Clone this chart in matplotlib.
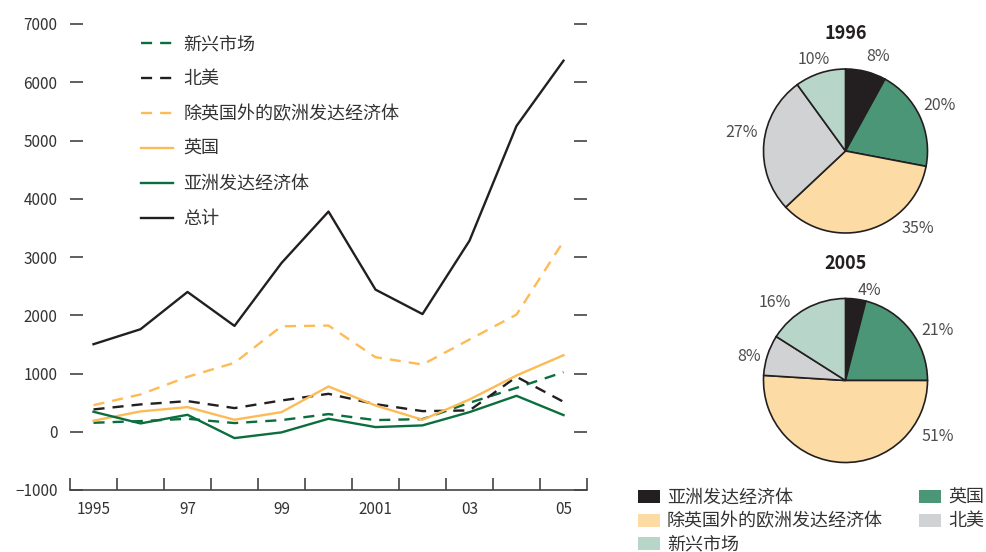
"""Capital flows by region 1995-2005 with 1996 / 2005 share pies"""
import matplotlib.pyplot as plt
from matplotlib.patches import Patch

plt.rcParams['font.family'] = ['Noto Sans CJK SC', 'DejaVu Sans']

YEARS = list(range(1995, 2006))
EMERGING = [154, 183, 223, 149, 200, 303, 200, 217, 497, 754, 1023]
NORTH_AMERICA = [383, 469, 526, 406, 537, 651, 474, 354, 366, 943, 514]
EUROPE_EX_UK = [457, 640, 943, 1183, 1811, 1823, 1280, 1154, 1583, 2011, 3270]
UK = [189, 349, 423, 206, 337, 777, 451, 206, 554, 966, 1314]
ASIA = [343, 143, 291, -109, -11, 223, 80, 109, 337, 617, 286]
TOTAL = [1503, 1760, 2400, 1817, 2897, 3780, 2440, 2020, 3280, 5250, 6370]

Y_TICKS = [-1000, 0, 1000, 2000, 3000, 4000, 5000, 6000, 7000]
Y_LABELS = ["\u22121000", "0", "1000", "2000", "3000", "4000", "5000", "6000", "7000"]
X_LABEL_YEARS = [1995, 1997, 1999, 2001, 2003, 2005]
X_LABELS = ["1995", "97", "99", "2001", "03", "05"]

# pie order (clockwise from 12 o'clock): Asia, UK, Europe ex UK, North America, Emerging
PIE_NAMES = ["亚洲发达经济体", "英国", "除英国外的欧洲发达经济体", "北美", "新兴市场"]
PIE_1996 = [8, 20, 35, 27, 10]
PIE_2005 = [4, 21, 51, 8, 16]

BLACK = "#231f20"
DKGREEN = "#0b6e3d"
ORANGE = "#fdbb55"
PIE_COLORS = ["#231f20", "#4a9677", "#fddba5", "#d1d2d4", "#b8d5c9"]
TICK_COLOR = "#444444"
TEXT_COLOR = "#333333"

fig = plt.figure(figsize=(9.86, 5.52), dpi=100)

# ---- line chart ----
ax = fig.add_axes([70 / 986, 1 - 490 / 552, 517 / 986, 466 / 552])
dash = (4.7, 3.4)
lw = 1.7
ax.plot(YEARS, EMERGING, color=DKGREEN, lw=lw, dashes=dash, label="新兴市场")
ax.plot(YEARS, NORTH_AMERICA, color=BLACK, lw=lw, dashes=dash, label="北美")
ax.plot(YEARS, EUROPE_EX_UK, color=ORANGE, lw=lw, dashes=dash, label="除英国外的欧洲发达经济体")
ax.plot(YEARS, UK, color=ORANGE, lw=lw, label="英国")
ax.plot(YEARS, ASIA, color=DKGREEN, lw=lw, label="亚洲发达经济体")
ax.plot(YEARS, TOTAL, color=BLACK, lw=lw, label="总计")

ax.set_xlim(1994.5, 2005.5)
ax.set_ylim(-1000, 7000)
for side in ("left", "right", "top"):
    ax.spines[side].set_visible(False)
ax.spines["bottom"].set_color(TICK_COLOR)
ax.spines["bottom"].set_linewidth(1.2)

ax.set_xticks([y + 0.5 for y in range(1994, 2006)])
ax.set_xticklabels([])
ax.set_xticks(X_LABEL_YEARS, minor=True)
ax.set_xticklabels(X_LABELS, minor=True)
ax.tick_params(axis="x", which="major", direction="in", length=8.5, width=1.2, color=TICK_COLOR)
ax.tick_params(axis="x", which="minor", length=0, pad=8, labelsize=11, labelcolor=TEXT_COLOR)

ax.set_yticks(Y_TICKS)
ax.set_yticklabels(Y_LABELS)
ax.tick_params(axis="y", direction="in", length=9.5, width=1.2, color=TICK_COLOR,
               left=True, right=True, pad=9, labelsize=11, labelcolor=TEXT_COLOR)

ax.legend(loc="upper left", bbox_to_anchor=(141 / 986, 1 - 35 / 552), bbox_transform=fig.transFigure,
          frameon=False, fontsize=13, handlelength=1.75, handletextpad=0.6,
          labelspacing=0.94, borderpad=0, borderaxespad=0, labelcolor=TEXT_COLOR)

# ---- pies ----
LABEL_POS_1996 = [(0.40, 1.15), (1.15, 0.56), (0.88, -0.95), (-1.27, 0.23), (-0.39, 1.11)]
LABEL_POS_2005 = [(0.29, 1.10), (1.12, 0.61), (1.12, -0.68), (-1.17, 0.29), (-0.86, 0.95)]


def draw_pie(center_y, values, label_pos, title):
    r = 82
    pax = fig.add_axes([(845.5 - r) / 986, 1 - (center_y + r) / 552, 2 * r / 986, 2 * r / 552])
    pax.pie(values, colors=PIE_COLORS, startangle=90, counterclock=False,
            wedgeprops=dict(edgecolor=BLACK, linewidth=1.2))
    pax.set_xlim(-1, 1)
    pax.set_ylim(-1, 1)
    pax.set_aspect("auto")
    pax.axis("off")
    for v, (lx, ly) in zip(values, label_pos):
        pax.text(lx, ly, f"{v}%", ha="center", va="center", fontsize=11.5,
                 color="#4d4d4d", clip_on=False)
    pax.text(0, 1.43, title, ha="center", va="center", fontsize=13, fontweight="bold",
             color=BLACK, clip_on=False)


draw_pie(151, PIE_1996, LABEL_POS_1996, "1996")
draw_pie(380.5, PIE_2005, LABEL_POS_2005, "2005")

handles = [Patch(facecolor=c, edgecolor="none") for c in PIE_COLORS]
order = [0, 2, 4, 1, 3]
fig.legend([handles[i] for i in order], [PIE_NAMES[i] for i in order],
           loc="upper left", bbox_to_anchor=(638 / 986, 1 - 489 / 552), ncol=2,
           frameon=False, fontsize=13, handlelength=1.2, handleheight=0.72,
           handletextpad=0.4, labelspacing=0.3, columnspacing=2.0,
           borderpad=0, borderaxespad=0, labelcolor=TEXT_COLOR)

plt.savefig("out.png", dpi=100)
print("Saved out.png")
